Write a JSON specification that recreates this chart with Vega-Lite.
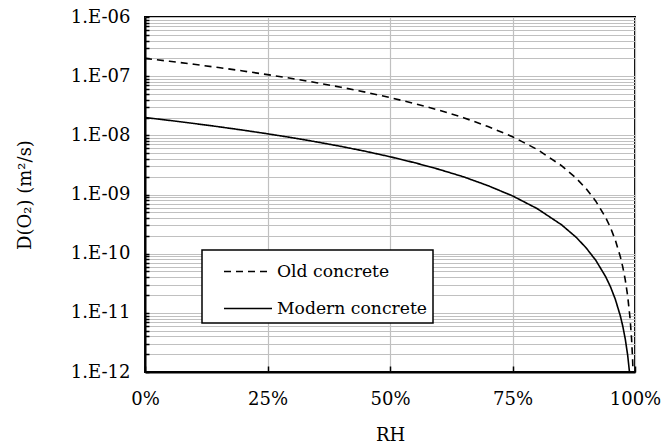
{
  "$schema": "https://vega.github.io/schema/vega-lite/v6.json",
  "width": 490,
  "height": 355,
  "autosize": {"type": "none"},
  "padding": {"left": 145, "top": 17, "right": 31, "bottom": 75},
  "background": "white",
  "config": {
    "font": "DejaVu Serif",
    "view": {"stroke": "#000000", "strokeWidth": 2},
    "axis": {
      "labelFont": "DejaVu Serif",
      "titleFont": "DejaVu Serif",
      "labelFontSize": 18,
      "titleFontSize": 18,
      "titleFontWeight": "normal",
      "labelColor": "#000000",
      "titleColor": "#000000",
      "domainColor": "#000000",
      "domainWidth": 2,
      "tickColor": "#000000",
      "tickWidth": 1.5,
      "gridColor": "#c0c0c0",
      "gridWidth": 1.2,
      "gridOpacity": 1
    },
    "legend": {
      "labelFont": "DejaVu Serif",
      "labelFontSize": 17.2,
      "labelColor": "#000000"
    }
  },
  "data": {
    "values": [
      {"rh": 0, "D": 2e-7, "s": "Old concrete"},
      {"rh": 0.05, "D": 1.787e-7, "s": "Old concrete"},
      {"rh": 0.1, "D": 1.586e-7, "s": "Old concrete"},
      {"rh": 0.15, "D": 1.399e-7, "s": "Old concrete"},
      {"rh": 0.2, "D": 1.224e-7, "s": "Old concrete"},
      {"rh": 0.25, "D": 1.062e-7, "s": "Old concrete"},
      {"rh": 0.3, "D": 9.13e-8, "s": "Old concrete"},
      {"rh": 0.35, "D": 7.75e-8, "s": "Old concrete"},
      {"rh": 0.4, "D": 6.5e-8, "s": "Old concrete"},
      {"rh": 0.45, "D": 5.37e-8, "s": "Old concrete"},
      {"rh": 0.5, "D": 4.35e-8, "s": "Old concrete"},
      {"rh": 0.55, "D": 3.45e-8, "s": "Old concrete"},
      {"rh": 0.6, "D": 2.66e-8, "s": "Old concrete"},
      {"rh": 0.65, "D": 1.99e-8, "s": "Old concrete"},
      {"rh": 0.7, "D": 1.41e-8, "s": "Old concrete"},
      {"rh": 0.75, "D": 9.47e-9, "s": "Old concrete"},
      {"rh": 0.8, "D": 5.8e-9, "s": "Old concrete"},
      {"rh": 0.85, "D": 3.08e-9, "s": "Old concrete"},
      {"rh": 0.88, "D": 1.89e-9, "s": "Old concrete"},
      {"rh": 0.9, "D": 1.26e-9, "s": "Old concrete"},
      {"rh": 0.92, "D": 7.72e-10, "s": "Old concrete"},
      {"rh": 0.94, "D": 4.1e-10, "s": "Old concrete"},
      {"rh": 0.95, "D": 2.75e-10, "s": "Old concrete"},
      {"rh": 0.96, "D": 1.68e-10, "s": "Old concrete"},
      {"rh": 0.97, "D": 8.92e-11, "s": "Old concrete"},
      {"rh": 0.975, "D": 5.98e-11, "s": "Old concrete"},
      {"rh": 0.98, "D": 3.66e-11, "s": "Old concrete"},
      {"rh": 0.985, "D": 1.94e-11, "s": "Old concrete"},
      {"rh": 0.99, "D": 7.98e-12, "s": "Old concrete"},
      {"rh": 0.993, "D": 3.64e-12, "s": "Old concrete"},
      {"rh": 0.995, "D": 1.73e-12, "s": "Old concrete"},
      {"rh": 0.997, "D": 5.62e-13, "s": "Old concrete"},
      {"rh": 0, "D": 2e-8, "s": "Modern concrete"},
      {"rh": 0.05, "D": 1.787e-8, "s": "Modern concrete"},
      {"rh": 0.1, "D": 1.586e-8, "s": "Modern concrete"},
      {"rh": 0.15, "D": 1.399e-8, "s": "Modern concrete"},
      {"rh": 0.2, "D": 1.224e-8, "s": "Modern concrete"},
      {"rh": 0.25, "D": 1.062e-8, "s": "Modern concrete"},
      {"rh": 0.3, "D": 9.13e-9, "s": "Modern concrete"},
      {"rh": 0.35, "D": 7.75e-9, "s": "Modern concrete"},
      {"rh": 0.4, "D": 6.5e-9, "s": "Modern concrete"},
      {"rh": 0.45, "D": 5.37e-9, "s": "Modern concrete"},
      {"rh": 0.5, "D": 4.35e-9, "s": "Modern concrete"},
      {"rh": 0.55, "D": 3.45e-9, "s": "Modern concrete"},
      {"rh": 0.6, "D": 2.66e-9, "s": "Modern concrete"},
      {"rh": 0.65, "D": 1.99e-9, "s": "Modern concrete"},
      {"rh": 0.7, "D": 1.41e-9, "s": "Modern concrete"},
      {"rh": 0.75, "D": 9.47e-10, "s": "Modern concrete"},
      {"rh": 0.8, "D": 5.8e-10, "s": "Modern concrete"},
      {"rh": 0.85, "D": 3.08e-10, "s": "Modern concrete"},
      {"rh": 0.88, "D": 1.89e-10, "s": "Modern concrete"},
      {"rh": 0.9, "D": 1.26e-10, "s": "Modern concrete"},
      {"rh": 0.92, "D": 7.72e-11, "s": "Modern concrete"},
      {"rh": 0.94, "D": 4.1e-11, "s": "Modern concrete"},
      {"rh": 0.95, "D": 2.75e-11, "s": "Modern concrete"},
      {"rh": 0.96, "D": 1.68e-11, "s": "Modern concrete"},
      {"rh": 0.97, "D": 8.92e-12, "s": "Modern concrete"},
      {"rh": 0.975, "D": 5.98e-12, "s": "Modern concrete"},
      {"rh": 0.98, "D": 3.66e-12, "s": "Modern concrete"},
      {"rh": 0.985, "D": 1.94e-12, "s": "Modern concrete"},
      {"rh": 0.99, "D": 7.98e-13, "s": "Modern concrete"}
    ]
  },
  "mark": {"type": "line", "clip": true, "color": "#000000", "strokeWidth": 1.6},
  "encoding": {
    "x": {
      "field": "rh",
      "type": "quantitative",
      "scale": {"domain": [0, 1], "nice": false},
      "axis": {
        "title": "RH",
        "format": ".0%",
        "values": [0, 0.25, 0.5, 0.75, 1],
        "tickSize": -6,
        "labelPadding": 24,
        "titleY": 68,
        "titleBaseline": "alphabetic",
        "labelFlush": false
      }
    },
    "y": {
      "field": "D",
      "type": "quantitative",
      "scale": {"type": "log", "domain": [1e-12, 1e-6], "nice": false},
      "axis": {
        "title": "D(O₂) (m²/s)",
        "values": [1e-12, 2e-12, 3e-12, 4e-12, 5e-12, 6e-12, 7e-12, 8e-12, 9e-12,
                   1e-11, 2e-11, 3e-11, 4e-11, 5e-11, 6e-11, 7e-11, 8e-11, 9e-11,
                   1e-10, 2e-10, 3e-10, 4e-10, 5e-10, 6e-10, 7e-10, 8e-10, 9e-10,
                   1e-9, 2e-9, 3e-9, 4e-9, 5e-9, 6e-9, 7e-9, 8e-9, 9e-9,
                   1e-8, 2e-8, 3e-8, 4e-8, 5e-8, 6e-8, 7e-8, 8e-8, 9e-8,
                   1e-7, 2e-7, 3e-7, 4e-7, 5e-7, 6e-7, 7e-7, 8e-7, 9e-7, 1e-6],
        "labelExpr": "abs(log(datum.value)/LN10 - round(log(datum.value)/LN10)) < 0.001 ? '1.E-' + (round(-log(datum.value)/LN10) < 10 ? '0' : '') + round(-log(datum.value)/LN10) : ''",
        "labelOverlap": false,
        "labelFlush": false,
        "labelBound": false,
        "tickSize": -4,
        "labelPadding": 19,
        "titleX": -120,
        "titleBaseline": "middle"
      }
    },
    "strokeDash": {
      "field": "s",
      "type": "nominal",
      "scale": {"domain": ["Old concrete", "Modern concrete"], "range": [[7, 5], [1, 0]]},
      "legend": {
        "title": null,
        "orient": "none",
        "legendX": 57,
        "legendY": 233,
        "strokeColor": "#000000",
        "fillColor": "#ffffff",
        "padding": 5.5,
        "symbolType": "M-1.6,0H1.6",
        "symbolSize": 900,
        "symbolOffset": 24.5,
        "symbolStrokeWidth": 1.6,
        "symbolStrokeColor": "#000000",
        "symbolFillColor": "transparent",
        "rowPadding": 12,
        "labelOffset": 13,
        "offset": 0,
        "encode": {"legend": {"update": {"strokeWidth": {"value": 1.5}}}}
      }
    }
  }
}
